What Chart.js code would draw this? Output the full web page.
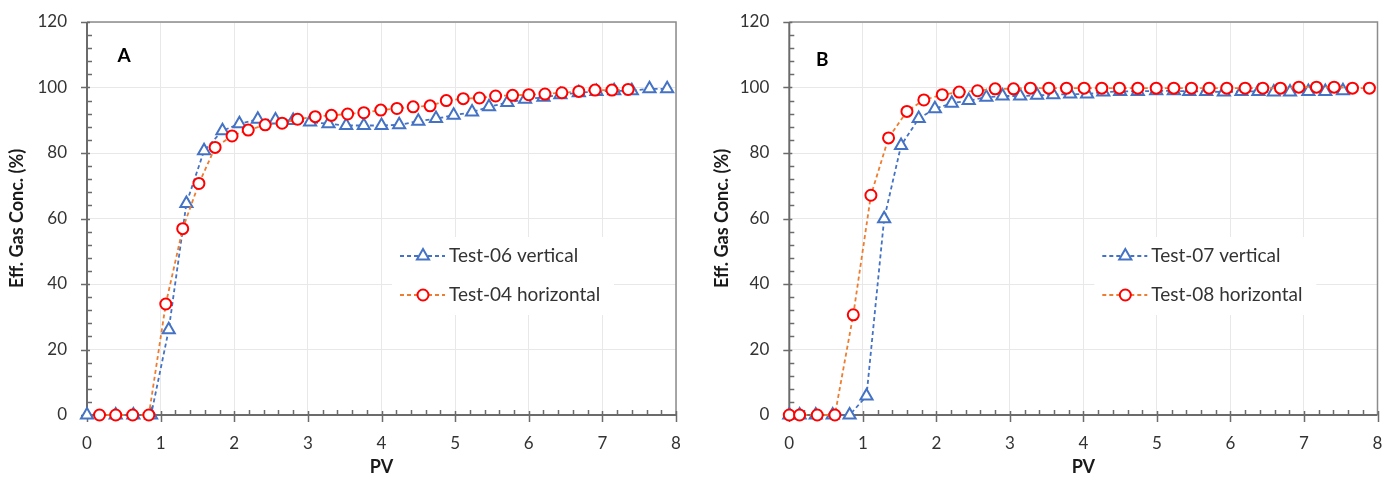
<!DOCTYPE html>
<html>
<head>
<meta charset="utf-8">
<title>Effluent gas concentration vs PV</title>
<script src="https://cdn.jsdelivr.net/npm/chart.js@4.4.1/dist/chart.umd.min.js"></script>
<style>
  html, body { margin: 0; padding: 0; background: #fff; overflow: hidden; }
  .panel { position: absolute; top: 0; width: 690px; height: 479px; }
  #panelA { left: 0; }
  #panelB { left: 705px; }
</style>
</head>
<body>
<div class="panel" id="panelA"><canvas id="chartA" width="690" height="479"></canvas></div>
<div class="panel" id="panelB"><canvas id="chartB" width="690" height="479"></canvas></div>
<script>
// axis ticks
const pvTicks = [0, 1, 2, 3, 4, 5, 6, 7, 8];
const concTicks = [0, 20, 40, 60, 80, 100, 120];

// panel A - Test-06 vertical
const pvTest06 = [0, 0.39, 0.63, 0.87, 1.11, 1.35, 1.59, 1.84, 2.07, 2.32, 2.56, 2.80, 3.03, 3.28, 3.52, 3.76, 4.00,
  4.24, 4.50, 4.74, 4.98, 5.23, 5.46, 5.71, 5.95, 6.20, 6.43, 6.68, 6.92, 7.16, 7.40, 7.64, 7.88];
const concTest06 = [0, 0, 0, 0, 26.0, 64.6, 80.7, 86.8, 88.9, 90.3, 90.1, 89.9, 89.5, 88.9, 88.4, 88.4, 88.4,
  88.6, 89.7, 90.5, 91.5, 92.5, 94.1, 95.4, 96.4, 97.0, 97.8, 98.4, 98.8, 99.0, 99.0, 99.6, 99.6];

// panel A - Test-04 horizontal
const pvTest04 = [0.17, 0.39, 0.62, 0.84, 1.07, 1.30, 1.52, 1.74, 1.97, 2.19, 2.42, 2.65, 2.86, 3.10, 3.32, 3.54, 3.76,
  3.99, 4.21, 4.43, 4.66, 4.88, 5.11, 5.33, 5.55, 5.78, 6.00, 6.22, 6.45, 6.68, 6.90, 7.13, 7.35];
const concTest04 = [0, 0, 0, 0, 33.9, 56.9, 70.7, 81.7, 85.2, 87.0, 88.6, 89.1, 90.3, 91.1, 91.5, 91.9, 92.3,
  93.1, 93.6, 94.1, 94.4, 96.0, 96.6, 96.8, 97.4, 97.6, 97.8, 98.0, 98.4, 98.8, 99.2, 99.2, 99.4];

// panel B - Test-07 vertical
const pvTest07 = [0, 0.14, 0.36, 0.59, 0.82, 1.05, 1.29, 1.52, 1.76, 1.98, 2.21, 2.44, 2.68, 2.90, 3.14, 3.37, 3.59,
  3.82, 4.05, 4.27, 4.50, 4.74, 4.99, 5.23, 5.44, 5.67, 5.91, 6.15, 6.38, 6.59, 6.81, 7.06, 7.29, 7.53];
const concTest07 = [0, 0, 0, 0, 0, 5.8, 59.9, 82.3, 90.5, 93.5, 95.2, 96.0, 97.0, 97.4, 97.4, 97.6, 97.8,
  98.0, 98.0, 98.6, 98.8, 98.8, 99.0, 99.0, 98.8, 98.8, 98.6, 98.8, 98.8, 98.6, 98.6, 98.8, 98.8, 99.0];

// panel B - Test-08 horizontal
const pvTest08 = [0, 0.14, 0.38, 0.62, 0.87, 1.11, 1.35, 1.60, 1.83, 2.08, 2.31, 2.56, 2.80, 3.05, 3.28, 3.53, 3.77,
  4.01, 4.25, 4.49, 4.74, 4.99, 5.23, 5.47, 5.71, 5.95, 6.20, 6.44, 6.68, 6.93, 7.17, 7.41, 7.66, 7.89];
const concTest08 = [0, 0, 0, 0, 30.6, 67.1, 84.6, 92.7, 96.2, 97.8, 98.6, 99.0, 99.6, 99.6, 99.8, 99.8, 99.8,
  99.8, 99.8, 99.8, 99.8, 99.8, 99.8, 99.8, 99.8, 99.8, 99.8, 99.8, 99.8, 100.1, 100.1, 100.1, 99.8, 99.8];

const BLUE = '#4472C4';
const ORANGE = '#ED7D31';
const RED = '#FF0000';
const TEXT = '#333333';
const FONT = 'Lato, "Open Sans", sans-serif';

function series(label, xs, ys, lineColor, markColor, style, order) {
  return {
    label,
    data: xs.map((v, i) => ({ x: v, y: ys[i] })),
    showLine: true,
    borderColor: lineColor,
    borderWidth: 1.8,
    borderDash: [4, 3],
    pointStyle: style,
    pointRadius: style === 'triangle' ? 7 : 5.5,
    pointBorderColor: markColor,
    pointBackgroundColor: '#ffffff',
    pointBorderWidth: 2,
    clip: false,
    order
  };
}

// frame, axis lines, cross ticks, panel letter and the in-plot legend
const axisDecor = {
  id: 'axisDecor',
  beforeDatasetsDraw(chart, args, opts) {
    const { ctx, chartArea: a, scales: { x, y } } = chart;
    ctx.save();
    ctx.strokeStyle = '#8c8c8c';
    ctx.lineWidth = 1.5;
    ctx.beginPath();
    ctx.moveTo(a.left, a.top);
    ctx.lineTo(a.right, a.top);
    ctx.lineTo(a.right, a.bottom);
    ctx.stroke();

    ctx.strokeStyle = '#6b6b6b';
    ctx.lineWidth = 2;
    ctx.beginPath();
    ctx.moveTo(a.left, a.top);
    ctx.lineTo(a.left, a.bottom);
    ctx.lineTo(a.right, a.bottom);
    ctx.stroke();

    ctx.lineWidth = 1.5;
    ctx.beginPath();
    for (let i = 0; i <= 40; i++) {
      const px = Math.round(x.getPixelForValue(i * 0.2)) + 0.5;
      if (i % 5 === 0) { ctx.moveTo(px, a.bottom - 4); ctx.lineTo(px, a.bottom + 7); }
      else { ctx.moveTo(px, a.bottom - 5); ctx.lineTo(px, a.bottom); }
    }
    for (let i = 0; i <= 30; i++) {
      const py = Math.round(y.getPixelForValue(i * 4)) + 0.5;
      if (i % 5 === 0) { ctx.moveTo(a.left - 6, py); ctx.lineTo(a.left + 3, py); }
      else { ctx.moveTo(a.left, py); ctx.lineTo(a.left + 5, py); }
    }
    ctx.stroke();

    ctx.fillStyle = '#000';
    ctx.font = 'bold 19px ' + FONT;
    ctx.textAlign = 'center';
    ctx.textBaseline = 'middle';
    ctx.fillText(opts.letter, a.left + opts.letterX, a.top + opts.letterY);
    ctx.restore();
  },
  afterDatasetsDraw(chart, args, opts) {
    const { ctx, chartArea: a } = chart;
    const lg = opts.legend;
    ctx.save();
    ctx.fillStyle = '#ffffff';
    ctx.fillRect(a.left + lg.left, a.top + lg.top, lg.width, lg.height);
    chart.data.datasets.forEach((ds, i) => {
      const yy = a.top + lg.rowY[i];
      ctx.strokeStyle = ds.borderColor;
      ctx.lineWidth = ds.borderWidth;
      ctx.setLineDash(ds.borderDash);
      ctx.beginPath();
      ctx.moveTo(a.left + lg.lineStart, yy);
      ctx.lineTo(a.left + lg.lineEnd, yy);
      ctx.stroke();
      ctx.setLineDash([]);
      ctx.strokeStyle = ds.pointBorderColor;
      ctx.fillStyle = ds.pointBackgroundColor;
      ctx.lineWidth = ds.pointBorderWidth;
      Chart.helpers.drawPoint(ctx, {
        pointStyle: ds.pointStyle, radius: ds.pointRadius, rotation: 0, borderWidth: ds.pointBorderWidth
      }, a.left + lg.marker, yy);
      ctx.fillStyle = TEXT;
      ctx.font = '19px ' + FONT;
      ctx.textAlign = 'left';
      ctx.textBaseline = 'middle';
      ctx.fillText(ds.label, a.left + lg.text, yy);
    });
    ctx.restore();
  }
};

// tick marks themselves are drawn by axisDecor; the library's invisible
// tick length only spaces the labels away from the axis
const hiddenTicks = len => ({ color: '#e8e8e8', lineWidth: 1, drawTicks: true, tickLength: len, tickColor: 'rgba(0,0,0,0)' });

function makeChart(id, letter, letterPos, datasets, plotLeft, plotRight) {
  return new Chart(document.getElementById(id), {
    type: 'scatter',
    data: { datasets },
    options: {
      responsive: false,
      animation: false,
      events: [],
      layout: { padding: { left: 0, top: 22, right: 690 - plotRight, bottom: 0 } },
      scales: {
        x: {
          type: 'linear',
          min: 0,
          max: 8,
          afterBuildTicks: s => { s.ticks = pvTicks.map(value => ({ value })); },
          afterFit: s => { s.height = 64; },
          grid: hiddenTicks(18),
          border: { display: false },
          ticks: { color: TEXT, font: { family: FONT, size: 17 }, padding: 0, maxRotation: 0 },
          title: {
            display: true, text: 'PV', color: '#1a1a1a',
            font: { family: FONT, size: 18, weight: 'bold' }, padding: { top: 0, bottom: 1 }
          }
        },
        y: {
          type: 'linear',
          min: 0,
          max: 120,
          afterBuildTicks: s => { s.ticks = concTicks.map(value => ({ value })); },
          afterFit: s => { s.width = plotLeft; },
          grid: hiddenTicks(20),
          border: { display: false },
          ticks: { color: TEXT, font: { family: FONT, size: 17 }, padding: 0 },
          title: {
            display: true, text: 'Eff. Gas Conc. (%)', color: '#1a1a1a',
            font: { family: FONT, size: 18, weight: 'bold' }, padding: { top: 6, bottom: 0 }
          }
        }
      },
      plugins: {
        legend: { display: false },
        tooltip: { enabled: false },
        axisDecor: {
          letter,
          letterX: letterPos[0],
          letterY: letterPos[1],
          legend: {
            left: 305, top: 215, width: 222, height: 78,
            rowY: [234, 273], lineStart: 313, lineEnd: 358, marker: 336, text: 362
          }
        }
      }
    },
    plugins: [axisDecor]
  });
}

makeChart('chartA', 'A', [37, 34], [
  series('Test-06 vertical', pvTest06, concTest06, BLUE, BLUE, 'triangle', 1),
  series('Test-04 horizontal', pvTest04, concTest04, ORANGE, RED, 'circle', 0)
], 87, 676);

makeChart('chartB', 'B', [33, 38], [
  series('Test-07 vertical', pvTest07, concTest07, BLUE, BLUE, 'triangle', 1),
  series('Test-08 horizontal', pvTest08, concTest08, ORANGE, RED, 'circle', 0)
], 84.3, 672.5);
</script>
</body>
</html>
